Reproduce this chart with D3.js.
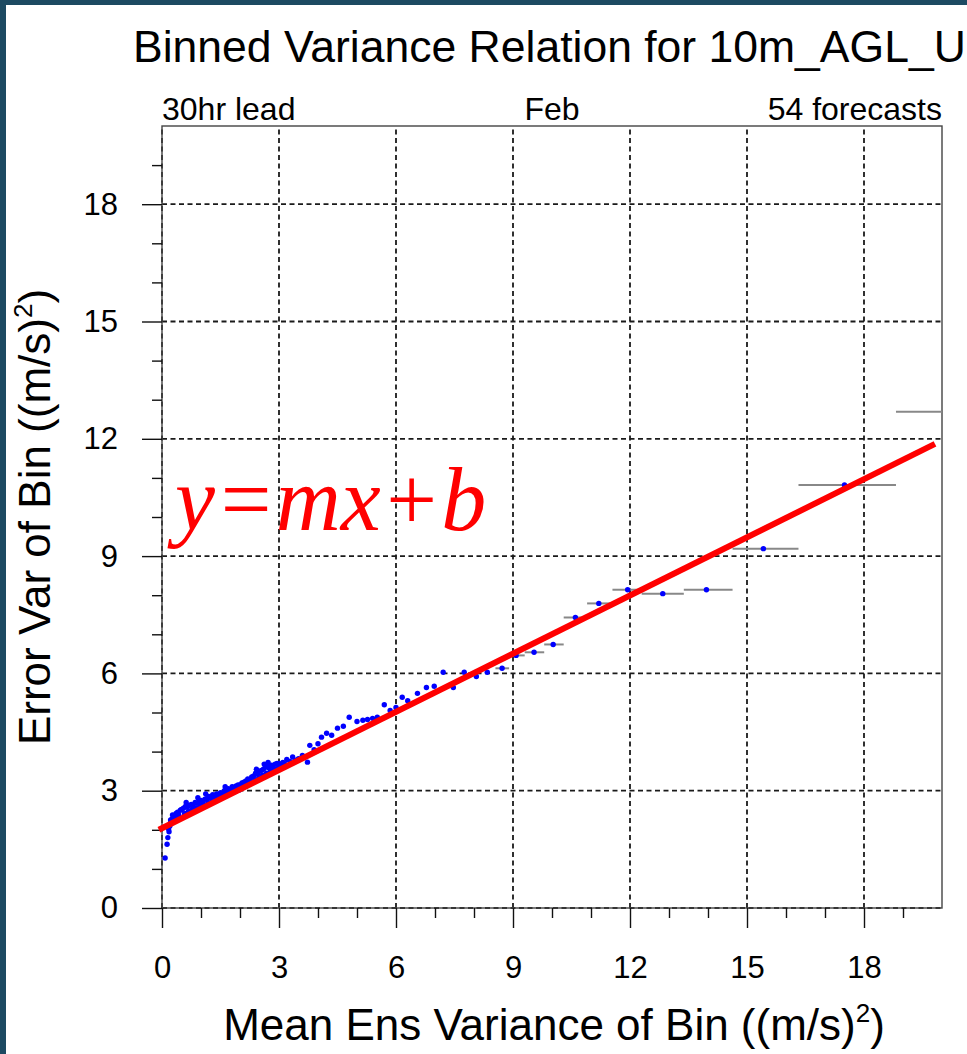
<!DOCTYPE html>
<html>
<head>
<meta charset="utf-8">
<script src="https://cdn.jsdelivr.net/npm/d3@7/dist/d3.min.js"></script>
<style>
  body { margin: 0; background: #fff; }
  svg text { font-family: "Liberation Sans", Arial, Helvetica, sans-serif; fill: #000; }
</style>
</head>
<body>
<div id="chart"></div>
<script>
// titles
const titleText = "Binned Variance Relation for 10m_AGL_U"
const leftNote = "30hr lead"
const centerNote = "Feb"
const rightNote = "54 forecasts"

// small bins (mean ens variance, error variance)
const binX = [0.08, 0.13, 0.15, 0.18, 0.2, 0.23, 0.26, 0.3, 0.33, 0.36, 0.4, 0.43, 0.47, 0.5, 0.55, 0.6, 0.65, 0.7, 0.75, 0.8,
  0.85, 0.9, 0.95, 1.0, 1.05, 1.1, 1.15, 1.2, 1.25, 1.3, 1.35, 1.4, 1.45, 1.5, 1.55, 1.6, 1.65, 1.7, 1.75, 1.8,
  1.85, 1.9, 1.95, 2.0, 2.05, 2.1, 2.15, 2.2, 2.25, 2.3, 2.35, 2.4, 2.45, 2.5, 2.55, 2.6, 2.65, 2.7, 2.75, 2.8,
  2.85, 2.9, 2.95, 3.0, 3.1, 3.2, 3.35, 3.5, 3.6, 3.73, 3.79, 3.9, 4.0, 4.09, 4.22, 4.35, 4.5, 4.65, 4.8, 5.0,
  5.15, 5.27, 5.4, 5.52, 5.7, 5.85, 6.0, 6.16, 6.3, 6.55, 6.78, 6.98, 7.21, 7.47, 7.75, 8.06, 8.34,
  0.17, 0.22, 0.27, 0.32, 0.45, 0.58, 0.68, 0.78, 0.88, 0.98, 1.08, 1.18, 1.28, 1.38, 1.48, 1.58, 1.68, 1.78, 1.88,
  1.98, 2.08, 2.18, 2.28, 2.38, 2.48, 2.58, 2.68, 2.78, 2.88, 2.98, 3.05, 3.15, 3.28, 3.42,
  1.12, 1.62, 2.42, 2.62, 2.72, 0.62, 0.92]
const binY = [1.28, 1.63, 1.8, 1.95, 2.1, 2.2, 2.28, 2.35, 2.3, 2.42, 2.45, 2.38, 2.5, 2.52, 2.55, 2.6, 2.58, 2.62, 2.65, 2.6,
  2.7, 2.68, 2.72, 2.75, 2.7, 2.78, 2.8, 2.85, 2.82, 2.9, 2.85, 2.92, 2.88, 2.95, 2.92, 3.0, 2.97, 3.05, 3.02, 3.1,
  3.08, 3.12, 3.15, 3.15, 3.2, 3.22, 3.25, 3.3, 3.28, 3.35, 3.38, 3.45, 3.42, 3.5, 3.52, 3.55, 3.6, 3.62, 3.58, 3.65,
  3.62, 3.68, 3.7, 3.7, 3.72, 3.8, 3.86, 3.82, 3.9, 3.73, 4.16, 4.05, 4.2, 4.37, 4.47, 4.42, 4.6, 4.65, 4.88, 4.77,
  4.8, 4.82, 4.85, 4.88, 5.2, 5.05, 5.13, 5.39, 5.3, 5.49, 5.64, 5.67, 6.03, 5.64, 6.03, 5.92, 6.03,
  2.02, 2.25, 2.38, 2.22, 2.3, 2.42, 2.48, 2.52, 2.56, 2.6, 2.62, 2.7, 2.72, 2.78, 2.8, 2.86, 2.9, 2.95, 2.98,
  3.02, 3.08, 3.15, 3.2, 3.28, 3.32, 3.4, 3.45, 3.5, 3.55, 3.58, 3.62, 3.68, 3.75, 3.78,
  2.92, 3.1, 3.55, 3.68, 3.72, 2.7, 2.82]

// wide bins with their edges
const wideX = [8.72, 9.08, 9.54, 10.03, 10.6, 11.2, 11.94, 12.84, 13.96, 15.42, 17.5, 21.0]
const wideY = [6.13, 6.46, 6.54, 6.74, 7.43, 7.79, 8.14, 8.04, 8.14, 9.19, 10.82, 12.69]
const wideLo = [8.55, 8.9, 9.3, 9.8, 10.3, 10.9, 11.55, 12.3, 13.38, 14.63, 16.32, 18.82]
const wideHi = [8.9, 9.3, 9.8, 10.3, 10.9, 11.55, 12.3, 13.38, 14.63, 16.32, 18.82, 23.5]

const xTicks = [0, 3, 6, 9, 12, 15, 18]
const yTicks = [0, 3, 6, 9, 12, 15, 18]
const minorTicks = [1, 2, 4, 5, 7, 8, 10, 11, 13, 14, 16, 17, 19]

// fit line y = m x + b
const fitSlope = 0.496
const fitIntercept = 2.04
const fitRange = [-0.08, 19.82]

const width = 967,
  height = 1054

const svg = d3.select("#chart")
  .append("svg")
  .attr("width", width)
  .attr("height", height)

// dark frame strips
svg.append("rect").attr("x", 0).attr("y", 0).attr("width", width).attr("height", 5).attr("fill", "#1d4a62")
svg.append("rect").attr("x", 0).attr("y", 0).attr("width", 6).attr("height", height).attr("fill", "#1d4a62")

const x = d3.scaleLinear().domain([0, 20]).range([162, 942])
const y = d3.scaleLinear().domain([0, 20]).range([908, 126])

const plot = svg.append("g")

// clip for the plot area
svg.append("clipPath").attr("id", "clip")
  .append("rect")
  .attr("x", x(0)).attr("y", y(20))
  .attr("width", x(20) - x(0)).attr("height", y(0) - y(20))

// grid
plot.selectAll(".vgrid")
  .data(xTicks)
  .join("line")
  .attr("x1", d => x(d)).attr("x2", d => x(d))
  .attr("y1", y(0)).attr("y2", y(20))
  .attr("stroke", "#1a1a1a")
  .attr("stroke-width", 1.8)
  .attr("stroke-dasharray", "5,3.5")

plot.selectAll(".hgrid")
  .data(yTicks)
  .join("line")
  .attr("x1", x(0)).attr("x2", x(20))
  .attr("y1", d => y(d)).attr("y2", d => y(d))
  .attr("stroke", "#1a1a1a")
  .attr("stroke-width", 1.8)
  .attr("stroke-dasharray", "5,3.5")

// frame
plot.append("rect")
  .attr("x", x(0)).attr("y", y(20))
  .attr("width", x(20) - x(0)).attr("height", y(0) - y(20))
  .attr("fill", "none")
  .attr("stroke", "#444")
  .attr("stroke-width", 1.4)

// axes
const yAxis = svg.append("g")
  .attr("transform", `translate(${x(0)},0)`)
  .call(d3.axisLeft(y).tickValues(yTicks).tickSize(20).tickPadding(24))
const yMinor = svg.append("g")
  .attr("transform", `translate(${x(0)},0)`)
  .call(d3.axisLeft(y).tickValues(minorTicks).tickSize(10).tickFormat(""))
const xAxis = svg.append("g")
  .attr("transform", `translate(0,${y(0)})`)
  .call(d3.axisBottom(x).tickValues(xTicks).tickSize(20).tickPadding(28))
const xMinor = svg.append("g")
  .attr("transform", `translate(0,${y(0)})`)
  .call(d3.axisBottom(x).tickValues(minorTicks).tickSize(10).tickFormat(""))

;[yAxis, yMinor, xAxis, xMinor].forEach(g => {
  g.select(".domain").remove()
  g.selectAll(".tick line").attr("stroke", "#111").attr("stroke-width", 1.4)
  g.selectAll(".tick text").style("font-size", "31px").attr("fill", "#000")
})

// bin width bars
const wide = wideX.map((d, i) => ({x: d, y: wideY[i], lo: wideLo[i], hi: wideHi[i]}))
const marks = svg.append("g").attr("clip-path", "url(#clip)")

marks.selectAll(".bar")
  .data(wide)
  .join("line")
  .attr("x1", d => x(d.lo)).attr("x2", d => x(d.hi))
  .attr("y1", d => y(d.y)).attr("y2", d => y(d.y))
  .attr("stroke", "#888")
  .attr("stroke-width", 2)

const pts = binX.map((d, i) => ({x: d, y: binY[i]})).concat(wide)
marks.selectAll(".pt")
  .data(pts)
  .join("circle")
  .attr("cx", d => x(d.x))
  .attr("cy", d => y(d.y))
  .attr("r", 2.7)
  .attr("fill", "#0000ff")

// regression line
svg.append("line")
  .attr("x1", x(fitRange[0])).attr("y1", y(fitIntercept + fitSlope * fitRange[0]))
  .attr("x2", x(fitRange[1])).attr("y2", y(fitIntercept + fitSlope * fitRange[1]))
  .attr("stroke", "#ff0000")
  .attr("stroke-width", 6)

svg.append("text")
  .attr("x", 175)
  .attr("y", 530)
  .style("font-family", "'Liberation Serif', 'Times New Roman', serif")
  .style("font-style", "italic")
  .style("font-size", "90px")
  .style("fill", "#ff0000")
  .text("y=mx+b")

// titles
svg.append("text")
  .attr("x", 133).attr("y", 62)
  .style("font-size", "44.5px")
  .text(titleText)

svg.append("text").attr("x", x(0)).attr("y", 120).style("font-size", "32px").text(leftNote)
svg.append("text").attr("x", x(10)).attr("y", 120).attr("text-anchor", "middle").style("font-size", "32px").text(centerNote)
svg.append("text").attr("x", x(20)).attr("y", 120).attr("text-anchor", "end").style("font-size", "32px").text(rightNote)

// axis titles
let xt = svg.append("text")
  .attr("x", (x(0) + x(20)) / 2 + 2).attr("y", 1040)
  .attr("text-anchor", "middle")
  .style("font-size", "44px")
xt.append("tspan").text("Mean Ens Variance of Bin ((m/s)")
xt.append("tspan").attr("dy", -18).style("font-size", "26px").text("2")
xt.append("tspan").attr("dy", 18).text(")")

let yt = svg.append("text")
  .attr("transform", `translate(50,${(y(0) + y(20)) / 2})rotate(-90)`)
  .attr("text-anchor", "middle")
  .style("font-size", "44px")
yt.append("tspan").text("Error Var of Bin ((m/s)")
yt.append("tspan").attr("dy", -18).style("font-size", "26px").text("2")
yt.append("tspan").attr("dy", 18).text(")")
</script>
</body>
</html>
